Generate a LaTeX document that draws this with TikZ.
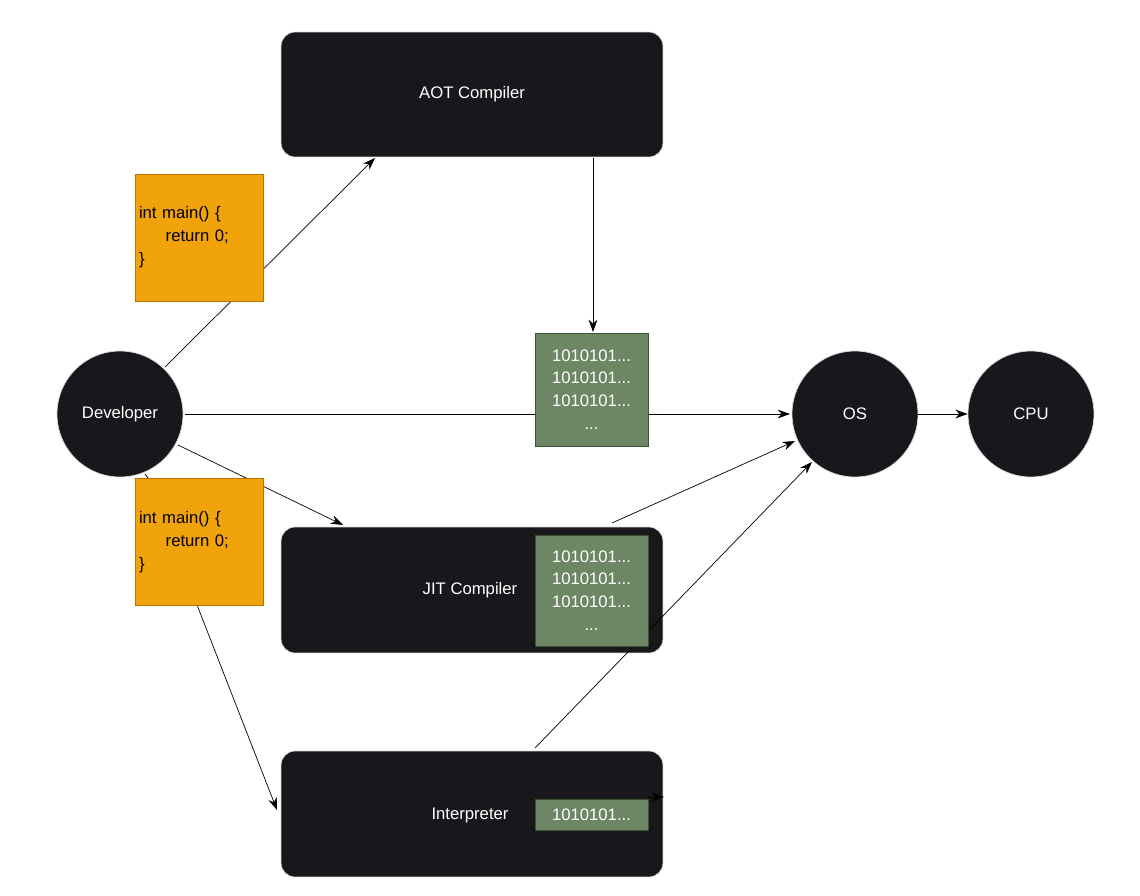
\documentclass[tikz,border=0pt]{standalone}
\usepackage{fontspec}
\setmainfont{Liberation Sans}
\usetikzlibrary{arrows.meta}
\definecolor{dk}{HTML}{18171C}
\definecolor{org}{HTML}{F0A30A}
\definecolor{orgb}{HTML}{BD7000}
\definecolor{grn}{HTML}{6D8764}
\definecolor{grnb}{HTML}{3A5431}
\begin{document}
\begin{tikzpicture}[x=0.02cm,y=-0.02cm,
 dark/.style={draw=black!15,fill=dk,rounded corners=8pt,text=white,font=\fontsize{9.5}{11}\selectfont},
 circ/.style={circle,draw=black!15,fill=dk,text=white,minimum size=2.52cm,inner sep=0,font=\fontsize{9.5}{11}\selectfont},
 code/.style={draw=orgb,fill=org,minimum width=2.56cm,minimum height=2.54cm,font=\fontsize{9.5}{13}\selectfont},
 bin/.style={draw=grnb,fill=grn,text=white,minimum width=2.26cm,font=\fontsize{9.5}{13}\selectfont,align=center},
 arr/.style={-{Stealth[length=7pt,width=5pt]},black}]
\useasboundingbox (0,0) rectangle (1140,896);
\node[dark,minimum width=7.64cm,minimum height=2.5cm] (aot) at (472,94.5) {AOT Compiler};
\node[dark,minimum width=7.64cm,minimum height=2.52cm] (jit) at (472,590) {};
\node[dark,minimum width=7.64cm,minimum height=2.52cm] (int) at (472,814) {};
\node[text=white,font=\fontsize{9.5}{11}\selectfont] (jitl) at (470,590) {JIT Compiler};
\node[text=white,font=\fontsize{9.5}{11}\selectfont] (intl) at (470,815) {Interpreter};
\node[circ] (dev) at (120,414) {Developer};
\node[circ] (os) at (855,414) {OS};
\node[circ] (cpu) at (1031,414) {CPU};
\coordinate (a1) at (165,367); \coordinate (a2) at (375,158);
\draw[arr] (a1) -- (a2);
\coordinate (b1) at (593,158); \coordinate (b2) at (593,332);
\draw[arr] (b1) -- (b2);
\coordinate (c1) at (185,414); \coordinate (c2) at (790,414);
\draw[arr] (c1) -- (c2);
\draw[arr] (os) -- (cpu);
\coordinate (d1) at (178,445); \coordinate (d2) at (343,525);
\draw[arr] (d1) -- (d2);
\coordinate (e1) at (145,474); \coordinate (e2) at (277,810);
\draw[arr] (e1) .. controls (150,480) .. (160,510) -- (e2);
\coordinate (f1) at (612,523); \coordinate (f2) at (795,441);
\draw[arr] (f1) -- (f2);
\coordinate (g1) at (535,748); \coordinate (g2) at (812,462);
\draw[arr] (g1) -- (g2);
\node[code,align=left,text width=2.4cm,inner sep=1pt] (c1b) at (199,237.5) {int main() \{\\\hspace*{1.6em}return 0;\\\}};
\node[code,align=left,text width=2.4cm,inner sep=1pt] (c2b) at (199,542) {int main() \{\\\hspace*{1.6em}return 0;\\\}};
\node[bin,minimum height=2.26cm] (b1n) at (591.5,389.5) {1010101...\\1010101...\\1010101...\\...};
\node[bin,minimum height=2.22cm] (b2n) at (591.5,590.5) {1010101...\\1010101...\\1010101...\\...};
\node[bin,minimum height=0.62cm] (b3n) at (591.5,814.5) {1010101...};
\coordinate (h2) at (664,797);
\draw[arr] (648,797) -- (h2);
\end{tikzpicture}
\end{document}
